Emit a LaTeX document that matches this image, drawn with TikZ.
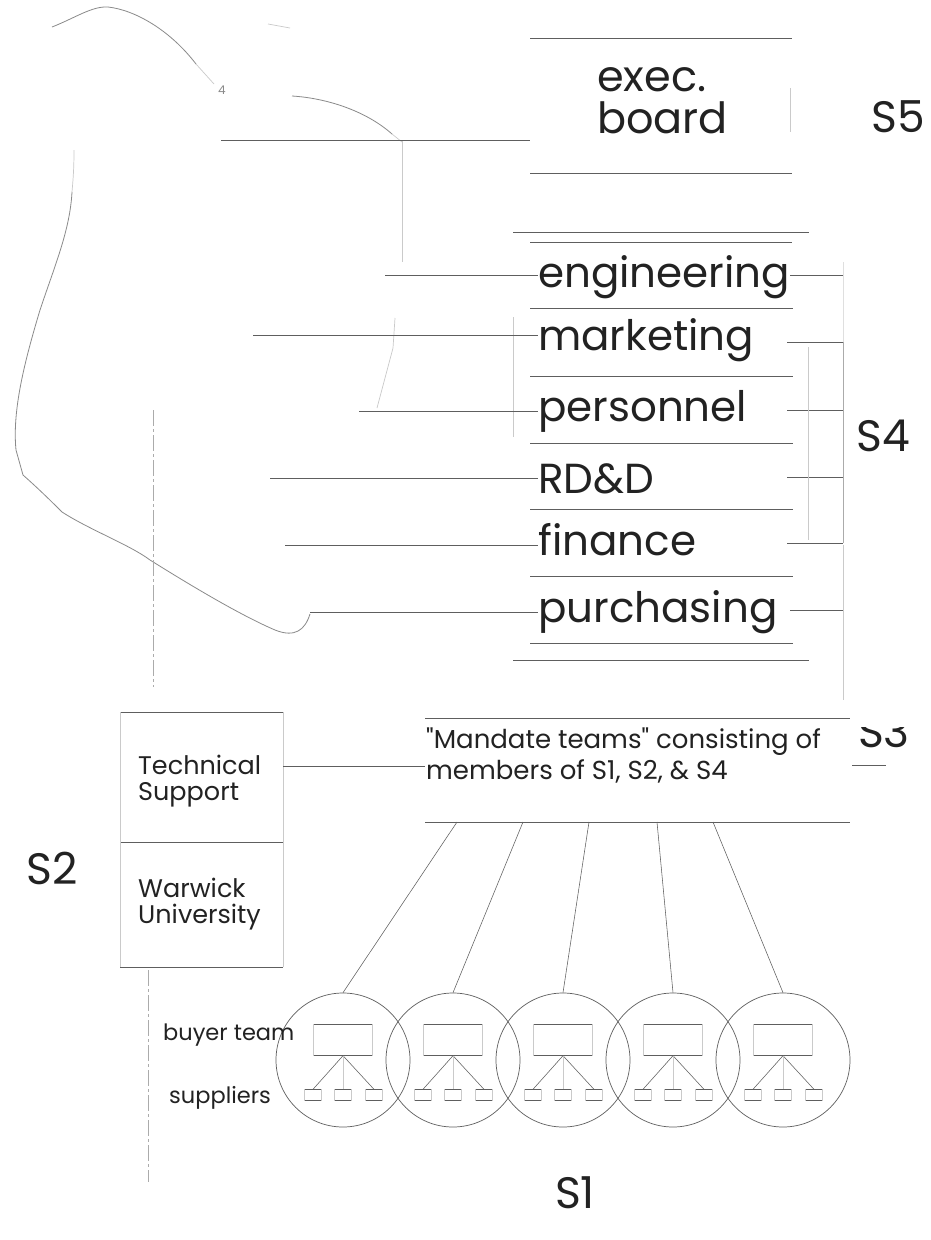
\documentclass[tikz,border=0pt]{standalone}
\usepackage{fontspec}
\setmainfont{Poppins}[Ligatures=TeXOff]
\definecolor{ink}{HTML}{222222}
\definecolor{rulegray}{HTML}{5E5E5E}
\definecolor{faintgray}{HTML}{CACACA}
\definecolor{spinegray}{HTML}{ABABAB}
\definecolor{curvegray}{HTML}{8A8A8A}
\begin{document}
\begin{tikzpicture}[x=1pt,y=-1pt,
  rule/.style={draw=rulegray,line width=0.8pt},
  thin/.style={draw=rulegray,line width=0.55pt},
  faint/.style={draw=faintgray,line width=0.7pt},
  spine/.style={draw=spinegray,line width=0.7pt,dash pattern=on 16pt off 3pt on 3pt off 3pt},
  sketch/.style={draw=curvegray,line width=0.8pt},
  dept/.style={font=\fontsize{42}{44}\selectfont,text=ink,inner sep=0pt,anchor=base west},
  slabel/.style={font=\fontsize{44}{46}\selectfont,text=ink,inner sep=0pt},
  mid/.style={font=\fontsize{26}{28}\selectfont,text=ink,inner sep=0pt,anchor=base west},
  side/.style={font=\fontsize{25.5}{27}\selectfont,text=ink,inner sep=0pt,anchor=base west},
  small/.style={font=\fontsize{22.5}{24}\selectfont,text=ink,inner sep=0pt,anchor=base west},
  blank/.style={inner sep=0pt,outer sep=0pt},
  team/.style={circle,draw=rulegray,line width=0.7pt,minimum size=134pt,inner sep=0pt},
  buyer/.style={minimum width=58pt,minimum height=31pt,inner sep=0pt},
  supp/.style={minimum width=16pt,minimum height=11pt,inner sep=0pt},
]
\useasboundingbox[fill=white] (0,0) rectangle (931,1240);

% ---------- sketched outline on the left ----------
\draw[sketch] (52,27) .. controls (75,18) and (92,6) .. (108,7)
  .. controls (135,10) and (170,30) .. (196,64);
\draw[faint] (196,64) -- (214,84);
\node[font=\fontsize{12}{12}\selectfont,text=curvegray,inner sep=0pt] (glyph) at (222,90) {4};
\draw[faint] (268,24) -- (290,28);
\draw[sketch] (292,96) .. controls (325,98) and (365,110) .. (392,134);
\draw[faint] (392,134) -- (402,142);
\draw[faint] (402,140) -- (402,262);
\draw[faint] (395,318) -- (393,348) -- (377,408);
\draw[faint] (513,317) -- (513,437);
\draw[faint] (74,150) .. controls (74,170) and (73,180) .. (72,192);
\draw[sketch] (72,192) .. controls (70,230) and (55,265) .. (40,310)
  .. controls (25,360) and (12,410) .. (16,450) -- (23,475)
  .. controls (40,490) and (55,505) .. (62,512)
  .. controls (90,530) and (130,545) .. (150,560)
  .. controls (190,585) and (240,615) .. (275,630)
  .. controls (295,638) and (305,630) .. (310,614);

% ---------- S5: executive board ----------
\node[blank,minimum width=262pt,minimum height=135pt] (execbox) at (661,105.5) {};
\draw[rule] (execbox.north west) -- (execbox.north east);
\draw[rule] (execbox.south west) -- (execbox.south east);
\node[dept,font=\fontsize{43}{45}\selectfont] (exec1) at (597,91) {exec.};
\node[dept,font=\fontsize{43}{45}\selectfont] (exec2) at (597,133) {board};
\draw[faint] (790,88) -- (790,132);
\node[slabel] (s5) at (898,117) {S5};
\coordinate (execL) at (221,140);
\draw[rule] (execL) -- (execL -| execbox.west);

% ---------- S4: functional departments ----------
\draw[rule] (513,232) -- (809,232);
\draw[rule] (530,242) -- (792,242);
\foreach \y in {308,376,443,509,576,643}{\draw[rule] (530,\y) -- (793,\y);}
\draw[rule] (513,660) -- (809,660);

\node[dept] (eng) at (538,287) {engineering};
\node[dept] (mkt) at (538,350) {marketing};
\node[dept] (pers) at (538,421) {personnel};
\node[dept] (rdd) at (538,493) {RD\&D};
\node[dept] (fin) at (538,555) {finance};
\node[dept] (pur) at (538,622) {purchasing};

\coordinate (engL) at (385,275);  \draw[rule] (engL) -- (engL -| eng.west);
\coordinate (mktL) at (253,335);  \draw[rule] (mktL) -- (mktL -| mkt.west);
\coordinate (persL) at (359,411); \draw[rule] (persL) -- (persL -| pers.west);
\coordinate (rddL) at (270,478);  \draw[rule] (rddL) -- (rddL -| rdd.west);
\coordinate (finL) at (285,545);  \draw[rule] (finL) -- (finL -| fin.west);
\coordinate (purL) at (310,612);  \draw[rule] (purL) -- (purL -| pur.west);

\coordinate (engR) at (843,275);  \draw[thin] (engR -| eng.east) -- (engR);
\coordinate (mktR) at (843,342);  \draw[thin] (787,342) -- (mktR);
\coordinate (persR) at (843,410); \draw[thin] (787,410) -- (persR);
\coordinate (rddR) at (843,477);  \draw[thin] (787,477) -- (rddR);
\coordinate (finR) at (843,543);  \draw[thin] (787,543) -- (finR);
\coordinate (purR) at (843,610);  \draw[thin] (790,610) -- (purR);

\draw[faint] (843,545) -- (843,700);
\draw[draw=faintgray!60,line width=0.6pt] (843,262) -- (843,342);
\draw[draw=spinegray,line width=0.7pt] (mktR) -- (finR);
\draw[faint] (808,347) -- (808,540);
\node[slabel] (s4) at (883,436) {S4};

% ---------- S3: mandate teams ----------
\node[blank,minimum width=425pt,minimum height=104pt] (mbox) at (637.5,770) {};
\draw[rule] (mbox.north west) -- (mbox.north east);
\draw[rule] (mbox.south west) -- (mbox.south east);
\node[mid] (mand1) at (426,748) {"Mandate teams" consisting of};
\node[mid] (mand2) at (426,779) {members of S1, S2, \& S4};
\begin{scope}
  \clip (850,727) rectangle (931,800);
  \node[slabel] (s3) at (884,731) {S3};
\end{scope}
\draw[thin] (852,765) -- (886,765);

% ---------- S2: support ----------
\draw[spine] (153,410) -- (153,687);
\node[blank,minimum width=163pt,minimum height=255pt] (s2box) at (201.5,839.5) {};
\draw[rule] (s2box.north west) -- (s2box.north east);
\draw[rule] (120,842) -- (283,842);
\draw[rule] (s2box.south west) -- (s2box.south east);
\draw[faint] (s2box.north west) -- (s2box.south west);
\draw[faint] (s2box.north east) -- (s2box.south east);
\node[side] (tech1) at (138,774) {Technical};
\node[side] (tech2) at (138,800) {Support};
\node[side] (warw1) at (138,897) {Warwick};
\node[side] (warw2) at (138,923) {University};
\coordinate (techC) at (283,766);
\draw[rule] (techC) -- (techC -| mbox.west);
\node[slabel] (s2) at (52,868) {S2};
\draw[spine] (148,970) -- (148,1182);

% ---------- S1: buyer teams with their suppliers ----------
\foreach \i/\cx/\mx in {1/343/457,2/453/523,3/563/589,4/673/657,5/783/713}{
  \node[team] (team\i) at (\cx,1060) {};
  \coordinate (mt\i) at (\mx,822);
  \draw[thin] (mt\i) -- (team\i.north);
  \node[buyer] (buy\i) at (\cx,1040) {};
  \draw[thin] (buy\i.north west) -- (buy\i.north east);
  \draw[thin] (buy\i.south west) -- (buy\i.south east);
  \draw[faint] (buy\i.north west) -- (buy\i.south west);
  \draw[faint] (buy\i.north east) -- (buy\i.south east);
  \foreach \j/\dx in {a/-30,b/0,c/31}{
    \node[supp] (sup\i\j) at (\cx+\dx,1095) {};
    \draw[thin] (sup\i\j.north west) -- (sup\i\j.north east);
    \draw[thin] (sup\i\j.south west) -- (sup\i\j.south east);
    \draw[faint] (sup\i\j.north west) -- (sup\i\j.south west);
    \draw[faint] (sup\i\j.north east) -- (sup\i\j.south east);
  }
  \draw[thin] (buy\i.south) -- (sup\i a.north);
  \draw[thin] (buy\i.south) -- (sup\i c.north);
  \draw[faint] (buy\i.south) -- (sup\i b.north);
}
\node[small] (buyerlbl) at (163,1040) {buyer team};
\node[small] (supplbl) at (169,1103) {suppliers};
\node[slabel] (s1) at (575,1193) {S1};

\end{tikzpicture}
\end{document}
